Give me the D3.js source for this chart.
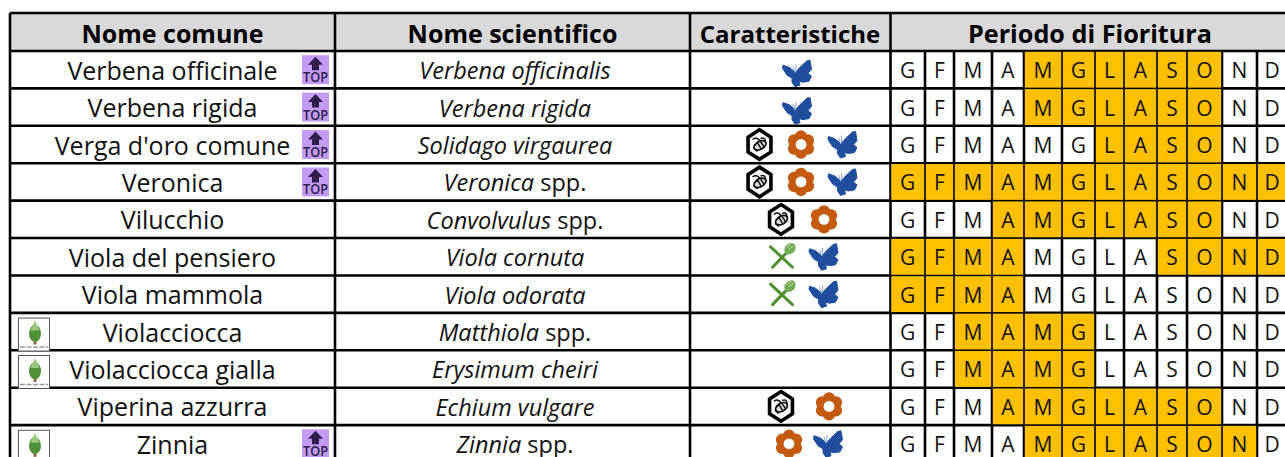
<!DOCTYPE html>
<html>
<head>
<meta charset="utf-8">
<script src="https://d3js.org/d3.v7.min.js"></script>
<style>
  html, body { margin: 0; padding: 0; background: #fff; overflow: hidden; }
  text { font-family: "Open Sans", "Noto Sans", sans-serif; fill: #111; }
</style>
</head>
<body>
<div id="chart"></div>
<script>
var headers = ["Nome comune", "Nome scientifico", "Caratteristiche", "Periodo di Fioritura"];
var commonNames = ["Verbena officinale", "Verbena rigida", "Verga d'oro comune", "Veronica", "Vilucchio",
    "Viola del pensiero", "Viola mammola", "Violacciocca", "Violacciocca gialla", "Viperina azzurra", "Zinnia"];
var scientificItalic = ["Verbena officinalis", "Verbena rigida", "Solidago virgaurea", "Veronica", "Convolvulus",
    "Viola cornuta", "Viola odorata", "Matthiola", "Erysimum cheiri", "Echium vulgare", "Zinnia"];
var scientificPlain = ["", "", "", " spp.", " spp.", "", "", " spp.", "", "", " spp."];
var features = [["butterfly"], ["butterfly"], ["bee", "flower", "butterfly"], ["bee", "flower", "butterfly"],
    ["bee", "flower"], ["food", "butterfly"], ["food", "butterfly"], [], [], ["bee", "flower"], ["flower", "butterfly"]];
var hasTop = [1, 1, 1, 1, 0, 0, 0, 0, 0, 0, 1];
var hasBook = [0, 0, 0, 0, 0, 0, 0, 1, 1, 0, 1];
var months = ["G", "F", "M", "A", "M", "G", "L", "A", "S", "O", "N", "D"];
var flowering = [
    "000011111100",
    "000011111100",
    "000000111100",
    "111111111111",
    "000111111100",
    "111100001111",
    "111100000000",
    "001111000000",
    "001111000000",
    "000111111100",
    "000011111110"
];

var width = 1285, height = 457;
var svg = d3.select("#chart").append("svg").attr("width", width).attr("height", height).style("display", "block");

// column and row edges, columns are not even so piecewise scales
var colX = d3.scaleOrdinal().domain(["left", "nome", "sci", "car"]).range([10, 335, 690, 890.5]);
var monthX = d3.scaleLinear().domain([0, 1, 2, 3, 4, 5, 6, 7, 8, 9, 10, 11, 12])
    .range([890.5, 925, 954, 992, 1024, 1062, 1095, 1124, 1157, 1187, 1222, 1257, 1292]);
var rowY = d3.scaleLinear().domain([0, commonNames.length]).range([51, 462.5]);
var headerTop = 13;

// header
svg.append("rect").attr("x", 10).attr("y", headerTop).attr("width", width).attr("height", rowY(0) - headerTop).attr("fill", "#d9d9d9");

// grid
var hLines = [headerTop].concat(d3.range(commonNames.length + 1).map(function(i) { return rowY(i); }));
svg.selectAll("line.h").data(hLines).enter().append("line").attr("class", "h")
    .attr("x1", 10).attr("x2", width).attr("y1", function(d) { return d; }).attr("y2", function(d) { return d; })
    .attr("stroke", "#000").attr("stroke-width", 2.6);
var vLines = colX.domain().map(function(k) { return colX(k); });
svg.selectAll("line.v").data(vLines).enter().append("line").attr("class", "v")
    .attr("x1", function(d) { return d; }).attr("x2", function(d) { return d; })
    .attr("y1", headerTop).attr("y2", height).attr("stroke", "#000").attr("stroke-width", 2.6);
svg.selectAll("line.m").data(d3.range(1, 12)).enter().append("line").attr("class", "m")
    .attr("x1", function(d) { return monthX(d); }).attr("x2", function(d) { return monthX(d); })
    .attr("y1", rowY(0)).attr("y2", height).attr("stroke", "#000").attr("stroke-width", 2.6);

// flowering cells, drawn a bit over the lines so that inner lines look thinner
flowering.forEach(function(flags, r) {
    flags.split("").forEach(function(f, m) {
        if (f == "1") {
            svg.append("rect")
                .attr("x", monthX(m) + 0.8).attr("y", rowY(r) + 0.8)
                .attr("width", monthX(m + 1) - monthX(m) - 1.6)
                .attr("height", rowY(r + 1) - rowY(r) - 1.6)
                .attr("fill", "#ffc000");
        }
    });
});

// header text
var headerCx = [172.5, 512.5, 790, 1090];
var headerSize = [25, 25, 24, 25.2];
svg.selectAll("text.head").data(headers).enter().append("text").attr("class", "head")
    .attr("x", function(d, i) { return headerCx[i]; }).attr("y", 42.5)
    .attr("text-anchor", "middle").attr("font-size", function(d, i) { return headerSize[i]; })
    .attr("font-weight", 700).style("fill", "#000")
    .text(function(d) { return d; });

function rowMid(r) { return (rowY(r) + rowY(r + 1)) / 2; }

// rows
svg.selectAll("text.common").data(commonNames).enter().append("text").attr("class", "common")
    .attr("x", 172.5).attr("y", function(d, i) { return rowMid(i) + 10; })
    .attr("text-anchor", "middle").attr("font-size", 25)
    .text(function(d) { return d; });

scientificItalic.forEach(function(name, i) {
    var t = svg.append("text").attr("x", 515).attr("y", rowMid(i) + 9.5)
        .attr("text-anchor", "middle").attr("font-size", 23.5);
    t.append("tspan").attr("font-style", "italic").text(name);
    if (scientificPlain[i]) t.append("tspan").text(scientificPlain[i]);
});

flowering.forEach(function(flags, r) {
    months.forEach(function(m, j) {
        svg.append("text")
            .attr("x", (monthX(j) + monthX(j + 1)) / 2 - (j == 11 ? 2.5 : 0)).attr("y", rowMid(r) + 8.5)
            .attr("text-anchor", "middle").attr("font-size", 21)
            .text(m);
    });
});

// icons
var butterflyPath = "M-3,1 L3,-6 L10,-12.5 L13,-13 L14.5,-4 L11,0 L14.5,3 L12,8 L6,9 L2,8 L3,12 L-2,13.5 L-5,9 L-5,5 L-10,2 L-14.5,-5 L-14,-8 L-8,-6 L-3,-2 Z";

function drawIcon(g, kind) {
    if (kind == "butterfly") {
        g.append("path").attr("d", butterflyPath).attr("fill", "#1f4e9e").attr("stroke", "#1f4e9e").attr("stroke-linejoin", "round");
        g.append("path").attr("d", "M-2,-1 L-4,-7 M-1,-1 L-1,-9").attr("stroke", "#6f8fc4").attr("stroke-width", 0.8);
    } else if (kind == "flower") {
        d3.range(6).forEach(function(i) {
            var a = i * Math.PI / 3;
            g.append("circle").attr("cx", 8 * Math.sin(a)).attr("cy", -8 * Math.cos(a)).attr("r", 6.2).attr("fill", "#c55a11");
        });
        g.append("circle").attr("r", 8).attr("fill", "#c55a11");
        g.append("circle").attr("r", 5.4).attr("fill", "#fff");
    } else if (kind == "bee") {
        var hex = d3.range(6).map(function(i) {
            var a = i * Math.PI / 3;
            return [13.2 * Math.sin(a), -14.8 * Math.cos(a)];
        });
        g.append("path").attr("d", d3.line()(hex) + "Z").attr("fill", "#fff").attr("stroke", "#000").attr("stroke-width", 3.6);
        g.append("ellipse").attr("cx", 0).attr("cy", 1).attr("rx", 6.5).attr("ry", 4).attr("transform", "rotate(-30)")
            .attr("fill", "#ddd").attr("stroke", "#111").attr("stroke-width", 1.7);
        g.append("path").attr("d", "M-7,-5 Q-3,-8 0,-4 L-5,1 M1,-6 Q6,-8 6,-2 M-2,-2 L2,5 M1,-3 L5,3 M-6,4 L-2,7")
            .attr("fill", "none").attr("stroke", "#111").attr("stroke-width", 1.5);
    } else if (kind == "food") {
        g.append("path").attr("d", "M-11,-10 L11,10.5").attr("stroke", "#4e8f2d").attr("stroke-width", 3).attr("stroke-linecap", "round");
        g.append("path").attr("d", "M-9,10.5 L7,-6").attr("stroke", "#4e8f2d").attr("stroke-width", 3).attr("stroke-linecap", "round");
        g.append("ellipse").attr("cx", 8.5).attr("cy", -8).attr("rx", 5).attr("ry", 6.4)
            .attr("transform", "rotate(42 8.5 -8)").attr("fill", "#74ab55");
        g.append("path").attr("d", "M5.5,-9.5 L9.5,-13 M7.5,-7.5 L12,-11").attr("stroke", "#cfe3c2").attr("stroke-width", 0.9);
    }
}

// icon groups are not centred the same way on every row
var iconCenter = [797, 797, 801, 801, 802.5, 802.5, 802.5, 802, 802, 805, 808.5];
var iconGap = [0, 0, 41.5, 41.5, 43, 42, 42, 0, 0, 48, 39];
var iconShift = [3.5, 3.5, 0, 0, 0, 0, 0, 0, 0, 0, 0];
features.forEach(function(list, r) {
    list.forEach(function(kind, j) {
        var x = iconCenter[r] + (j - (list.length - 1) / 2) * iconGap[r];
        drawIcon(svg.append("g").attr("transform", "translate(" + x + "," + (rowMid(r) + iconShift[r]) + ")"), kind);
    });
});

// TOP badge
hasTop.forEach(function(f, r) {
    if (!f) return;
    var g = svg.append("g").attr("transform", "translate(302," + (rowMid(r) - 14.5) + ")");
    g.append("rect").attr("width", 27).attr("height", 29).attr("fill", "#c39bf5");
    g.append("path").attr("d", "M13.5,1.5 L21,9.5 L17,9.5 L17,15 L10,15 L10,9.5 L6,9.5 Z").attr("fill", "#2e1f4a");
    g.append("text").attr("x", 13.5).attr("y", 27).attr("text-anchor", "middle").attr("font-size", 14)
        .attr("font-weight", 600).attr("textLength", 25).attr("lengthAdjust", "spacingAndGlyphs")
        .style("fill", "#2e1f4a").text("TOP");
});

// small book icon
hasBook.forEach(function(f, r) {
    if (!f) return;
    var g = svg.append("g").attr("transform", "translate(18," + (rowMid(r) - 14) + ")");
    g.append("rect").attr("x", 0.5).attr("y", 0.5).attr("width", 31).attr("height", 33).attr("fill", "#fff").attr("stroke", "#555");
    g.append("ellipse").attr("cx", 17).attr("cy", 16).attr("rx", 6).attr("ry", 8.5).attr("fill", "#4f8f36");
    g.append("path").attr("d", "M17,3 L12.5,13 L21.5,13 Z").attr("fill", "#9cc77f");
    g.append("rect").attr("x", 15.5).attr("y", 24).attr("width", 3).attr("height", 3).attr("fill", "#8a6a3a");
    g.append("line").attr("x1", 2).attr("x2", 30).attr("y1", 29.5).attr("y2", 29.5)
        .attr("stroke", "#999").attr("stroke-width", 1.4).attr("stroke-dasharray", "5 1.5");
});
</script>
</body>
</html>
